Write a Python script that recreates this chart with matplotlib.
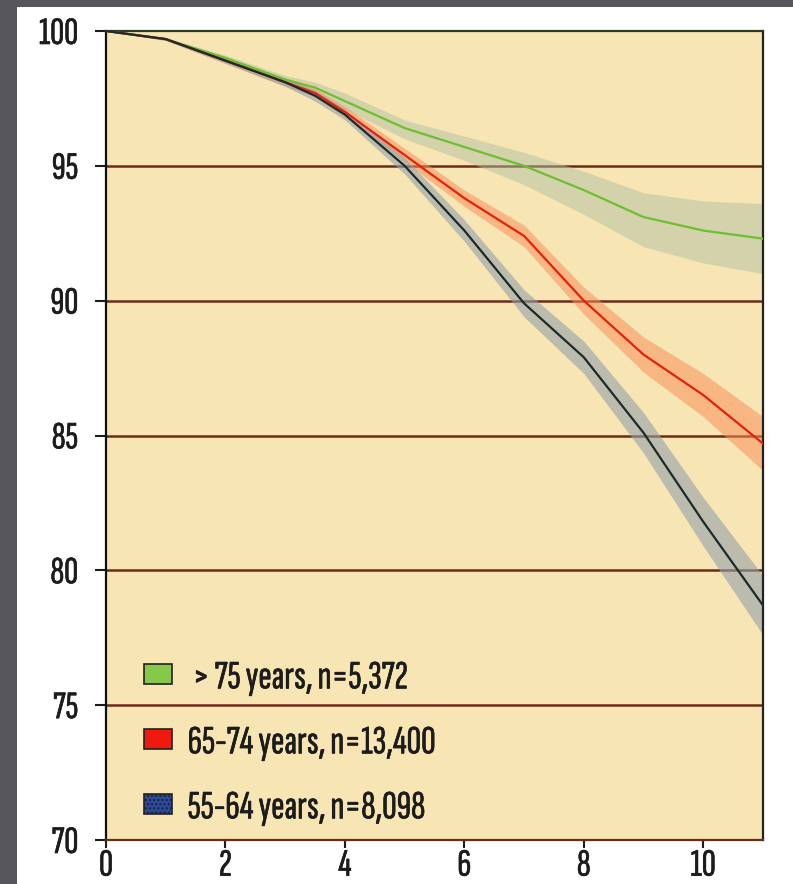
"""Survival curves by age group, redrawn from a scanned figure."""

import matplotlib

matplotlib.use("Agg")
import matplotlib.patheffects as pe  # noqa: E402
import matplotlib.pyplot as plt  # noqa: E402
from matplotlib.patches import Patch, Rectangle  # noqa: E402

# years of follow-up
years = [0, 1, 2, 3, 3.5, 4, 5, 6, 7, 8, 9, 10, 11]

# > 75 years
old_mean = [100, 99.7, 99.0, 98.2, 97.9, 97.4, 96.4, 95.7, 95.0, 94.1, 93.1, 92.6, 92.3]
old_low = [100, 99.65, 98.9, 98.05, 97.7, 97.1, 96.0, 95.2, 94.3, 93.2, 92.0, 91.4, 91.0]
old_high = [100, 99.75, 99.1, 98.35, 98.1, 97.7, 96.7, 96.1, 95.5, 94.8, 94.0, 93.7, 93.6]

# 65-74 years
mid_mean = [100, 99.7, 98.9, 98.1, 97.7, 97.0, 95.4, 93.8, 92.4, 90.0, 88.0, 86.5, 84.7]
mid_halfwidth = [0, 0.05, 0.1, 0.15, 0.15, 0.2, 0.25, 0.3, 0.4, 0.5, 0.65, 0.8, 1.0]

# 55-64 years
young_mean = [100, 99.7, 98.9, 98.1, 97.6, 96.9, 95.0, 92.6, 89.9, 87.9, 85.1, 81.8, 78.7]
young_halfwidth = [0, 0.05, 0.1, 0.15, 0.2, 0.2, 0.3, 0.4, 0.5, 0.6, 0.75, 0.9, 1.1]

labels = [" > 75 years, n=5,372", "65-74 years, n=13,400", "55-64 years, n=8,098"]

y_ticks = [70, 75, 80, 85, 90, 95, 100]
x_ticks = [0, 2, 4, 6, 8, 10]

FONT = ["Sofia Sans Extra Condensed", "Fira Sans Condensed", "DejaVu Sans"]
TEXT = "#1c1c1c"
BOLDEN = [pe.withStroke(linewidth=0.45, foreground=TEXT)]

fig = plt.figure(figsize=(7.93, 8.84), dpi=100, facecolor="white")
# dark frame of the scan at left and top
fig.patches.append(Rectangle((0, 0), 17 / 793, 1, transform=fig.transFigure,
                             facecolor="#57565b", edgecolor="none", zorder=0))
fig.patches.append(Rectangle((0, 1 - 7 / 884), 1, 7 / 884, transform=fig.transFigure,
                             facecolor="#57565b", edgecolor="none", zorder=0))

ax = fig.add_axes([106 / 793, 44 / 884, 657 / 793, 809 / 884])
ax.set_facecolor("#f7e5b4")
ax.set_xlim(0, 11)
ax.set_ylim(70, 100)

for y in y_ticks[:-1]:
    ax.axhline(y, color="#6e2a18", lw=1.8, zorder=1)

bands = [
    (old_low, old_high, "#b0c0a4", 0.5),
    ([m - h for m, h in zip(mid_mean, mid_halfwidth)],
     [m + h for m, h in zip(mid_mean, mid_halfwidth)], "#f7905a", 0.55),
    ([m - h for m, h in zip(young_mean, young_halfwidth)],
     [m + h for m, h in zip(young_mean, young_halfwidth)], "#94a2aa", 0.6),
]
for lo, hi, col, alpha in bands:
    ax.fill_between(years, lo, hi, color=col, alpha=alpha, lw=0, zorder=2)

ax.plot(years, old_mean, color="#6cc030", lw=1.6, zorder=3)
ax.plot(years, mid_mean, color="#e6200e", lw=1.6, zorder=3)
ax.plot(years, young_mean, color="#1b2a2a", lw=1.6, zorder=3)

ax.spines["left"].set_color("#111111")
ax.spines["right"].set_color("#222222")
ax.spines["top"].set_color("#2c3a22")
ax.spines["bottom"].set_color("#6e2a18")
for s in ax.spines.values():
    s.set_linewidth(1.6)

ax.set_yticks(y_ticks)
ax.set_xticks(x_ticks)
ax.tick_params(axis="y", length=8, width=1.5, pad=12, colors=TEXT, labelsize=28)
ax.tick_params(axis="x", length=6, width=1.5, pad=1, colors=TEXT, labelsize=28)
for lab in ax.get_xticklabels() + ax.get_yticklabels():
    lab.set_family(FONT)
    lab.set_path_effects(BOLDEN)

handles = [
    Patch(facecolor="#86c84a", edgecolor="#222222", lw=1.2),
    Patch(facecolor="#ee1a10", edgecolor="#222222", lw=1.2),
    Patch(facecolor="#2a4aa0", edgecolor="#222222", lw=1.2, hatch="...."),
]
leg = ax.legend(handles, labels, loc="lower left", bbox_to_anchor=(0.003, -0.028),
                frameon=False, handlelength=0.7, handleheight=0.38,
                handletextpad=0.38, labelspacing=0.72,
                prop={"family": FONT, "size": 29})
for t in leg.get_texts():
    t.set_color(TEXT)
    t.set_path_effects(BOLDEN)

fig.savefig("out.png", dpi=100, facecolor=fig.get_facecolor())
